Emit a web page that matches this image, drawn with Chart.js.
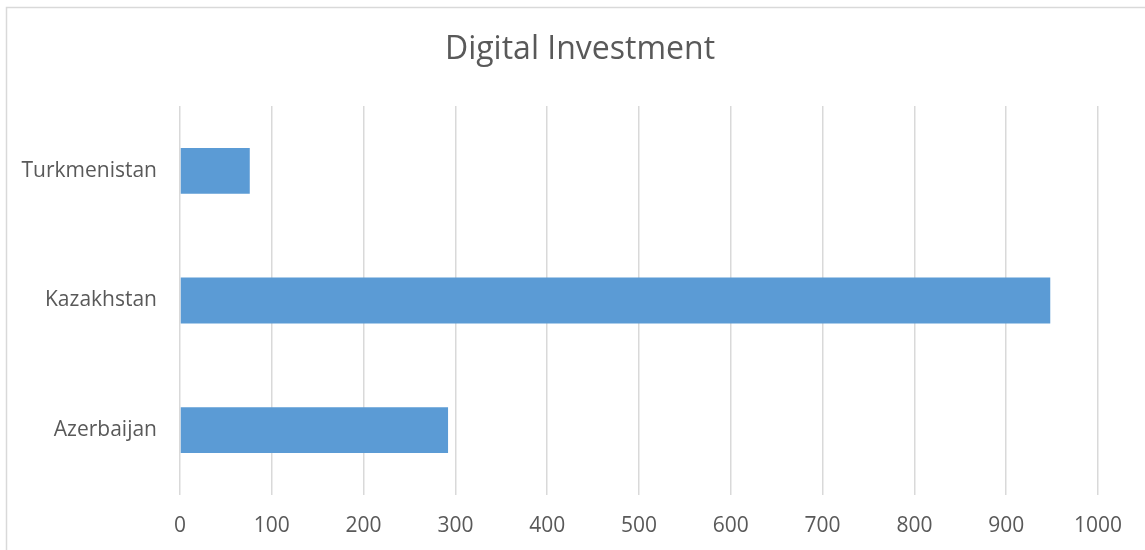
<!DOCTYPE html>
<html>
<head>
<meta charset="utf-8">
<script src="https://cdn.jsdelivr.net/npm/chart.js@4/dist/chart.umd.min.js"></script>
<style>
  html, body { margin: 0; padding: 0; background: #fff; }
  #wrap { position: absolute; left: 0; top: 0; width: 1145px; height: 550px; }
</style>
</head>
<body>
<div id="wrap"><canvas id="c" width="1145" height="550"></canvas></div>
<script>
// Chart data
const countries = ['Turkmenistan', 'Kazakhstan', 'Azerbaijan'];
const investment = [76, 948, 292];
const xTicks = [0, 100, 200, 300, 400, 500, 600, 700, 800, 900, 1000];

const textColor = '#595959';
const gridColor = '#d9d9d9';
const barColor = '#5b9bd5';
const fontFamily = '"Open Sans", "Liberation Sans", sans-serif';

// Thin frame around the whole chart
const framePlugin = {
  id: 'frame',
  beforeDraw(chart) {
    const ctx = chart.ctx;
    ctx.save();
    ctx.strokeStyle = gridColor;
    ctx.lineWidth = 1.5;
    ctx.strokeRect(6.5, 7.5, chart.width + 10, chart.height + 10);
    ctx.restore();
  }
};

new Chart(document.getElementById('c'), {
  type: 'bar',
  data: {
    labels: countries,
    datasets: [{
      label: 'Digital Investment',
      data: investment,
      backgroundColor: barColor,
      borderWidth: 0,
      categoryPercentage: 1,
      barPercentage: 0.354
    }]
  },
  options: {
    indexAxis: 'y',
    responsive: false,
    animation: false,
    devicePixelRatio: 1,
    layout: { padding: { left: 15, right: 0, top: 0, bottom: 0 } },
    plugins: {
      legend: { display: false },
      tooltip: { enabled: false },
      title: {
        display: true,
        text: 'Digital Investment',
        color: textColor,
        font: { family: fontFamily, size: 32, weight: 'normal', lineHeight: 1.2 },
        padding: { top: 31, bottom: 36.6 }
      }
    },
    scales: {
      x: {
        min: 0,
        max: 1000,
        afterBuildTicks(scale) { scale.ticks = xTicks.map(v => ({ value: v })); },
        afterFit(scale) { scale.height = 55; scale.paddingRight = 47; },
        grid: { color: gridColor, lineWidth: 1.5, drawTicks: false },
        border: { display: false },
        ticks: {
          color: textColor,
          padding: 18,
          font: { family: fontFamily, size: 21 },
          callback: (v) => String(v)
        }
      },
      y: {
        afterFit(scale) { scale.width = 165; },
        grid: { display: false, drawTicks: false },
        border: { display: false },
        ticks: {
          color: textColor,
          padding: 23,
          font: { family: fontFamily, size: 21 }
        }
      }
    }
  },
  plugins: [framePlugin]
});
</script>
</body>
</html>
